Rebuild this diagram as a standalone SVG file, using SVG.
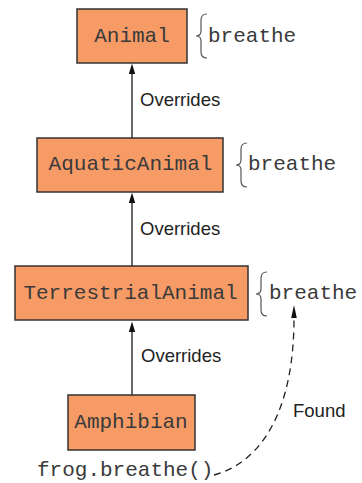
<svg xmlns="http://www.w3.org/2000/svg" width="362" height="483" viewBox="0 0 362 483">
<style>
.box{fill:#F79B66;stroke:#333;stroke-width:1.5}
.mono{font-family:"Liberation Mono","Courier New",monospace;font-size:21px;fill:#3a3a3a}
.lbl{font-family:"Liberation Sans",Arial,sans-serif;font-size:18.5px;fill:#222}
.brace{fill:none;stroke:#555;stroke-width:1.2}
.edge{fill:none;stroke:#444;stroke-width:1.6}
.dash{fill:none;stroke:#222;stroke-width:1.3;stroke-dasharray:7,5}
</style>
<g id="connectors">
<line class="edge" x1="132" y1="138" x2="132" y2="73"/>
<path d="M128.8,74 L132,63.5 L135.2,74 Z" fill="#111"/>
<text class="lbl" x="140" y="106">Overrides</text>
<line class="edge" x1="132" y1="266" x2="132" y2="202"/>
<path d="M128.8,203 L132,192.5 L135.2,203 Z" fill="#111"/>
<text class="lbl" x="140" y="235">Overrides</text>
<line class="edge" x1="132" y1="395" x2="132" y2="331"/>
<path d="M128.8,332 L132,321.5 L135.2,332 Z" fill="#111"/>
<text class="lbl" x="141" y="362">Overrides</text>
<path class="dash" d="M214,475 C262,462 294,410 294,318"/>
<path d="M291.2,318 L294,305 L296.8,318 Z" fill="#111"/>
<text class="lbl" x="293" y="417">Found</text>
</g>
<g id="animal">
<rect class="box" x="77" y="9" width="110" height="54"/>
<text class="mono" x="132" y="42" text-anchor="middle">Animal</text>
<path class="brace" d="M207,14 Q201,14 201,20 L201,31 Q201,36 196,36 Q201,36 201,41 L201,52 Q201,58 207,58"/>
<text class="mono" x="208" y="42">breathe</text>
</g>
<g id="aquaticanimal">
<rect class="box" x="37" y="138" width="186" height="54"/>
<text class="mono" x="130.5" y="170" text-anchor="middle">AquaticAnimal</text>
<path class="brace" d="M247,143 Q241,143 241,149 L241,160 Q241,165 236,165 Q241,165 241,170 L241,181 Q241,187 247,187"/>
<text class="mono" x="248" y="170">breathe</text>
</g>
<g id="terrestrialanimal">
<rect class="box" x="15" y="266" width="233" height="54"/>
<text class="mono" x="130.5" y="299" text-anchor="middle">TerrestrialAnimal</text>
<path class="brace" d="M267,272 Q261,272 261,278 L261,289 Q261,294 256,294 Q261,294 261,299 L261,310 Q261,316 267,316"/>
<text class="mono" x="269" y="299">breathe</text>
</g>
<g id="amphibian">
<rect class="box" x="68" y="395" width="127" height="55"/>
<text class="mono" x="131" y="428" text-anchor="middle">Amphibian</text>
</g>
<g id="call">
<text class="mono" x="37" y="476">frog.breathe()</text>
</g>
</svg>
